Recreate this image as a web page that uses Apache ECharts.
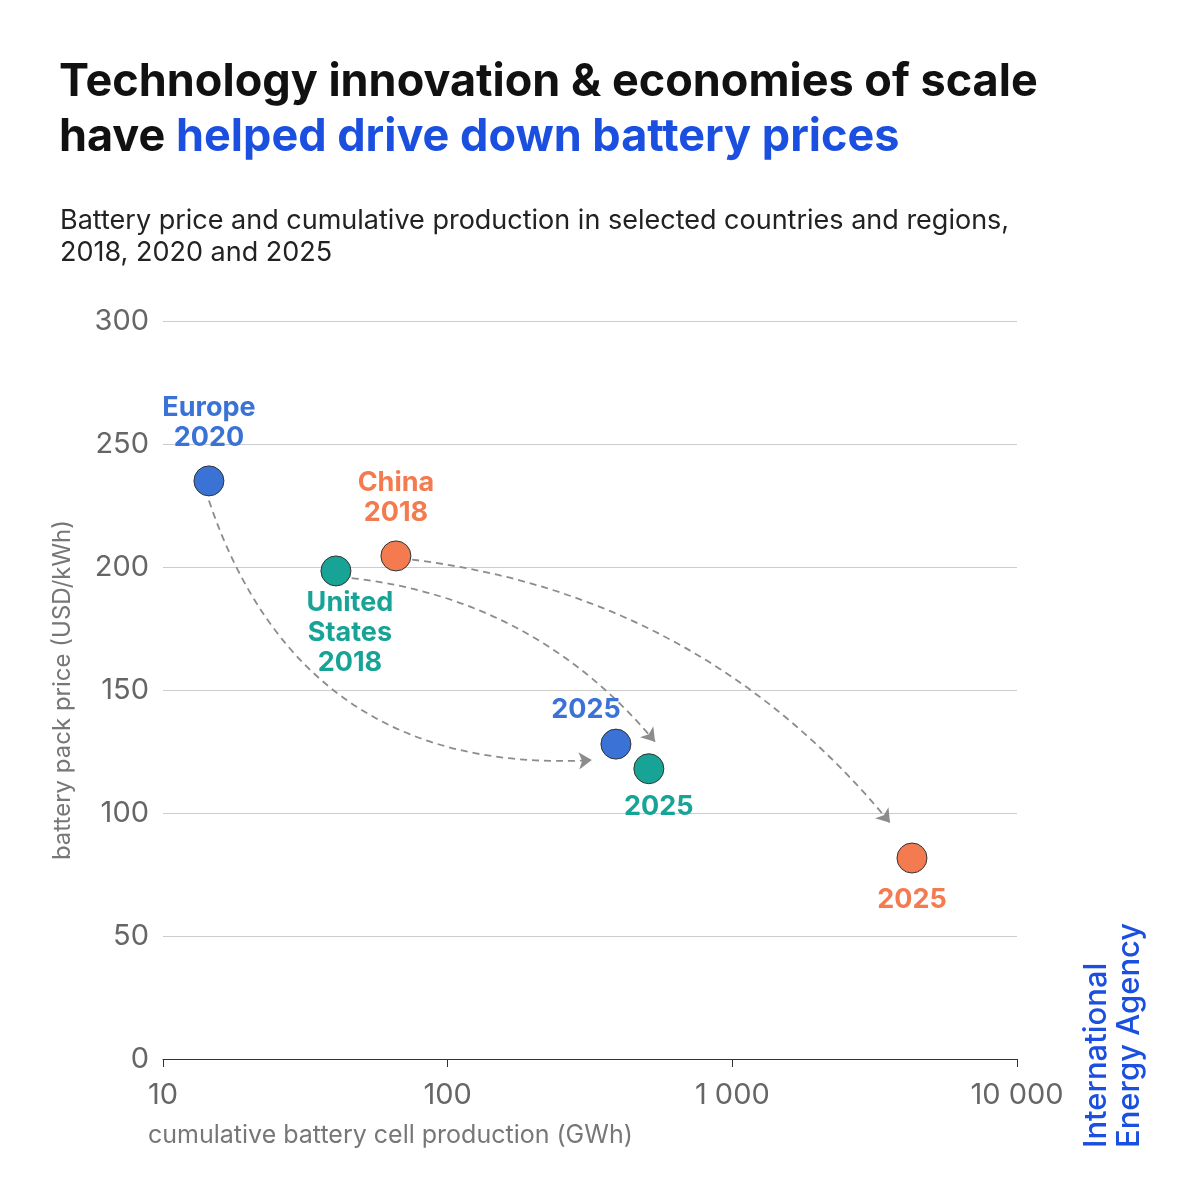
<!DOCTYPE html><html><head><meta charset="utf-8"><script src="https://cdn.jsdelivr.net/npm/echarts@6/dist/echarts.min.js"></script>
<style>body{margin:0}#c{width:1200px;height:1200px}</style></head><body><div id="c"></div><script>
const names=['Europe','China','United States'];
const colors=['#3b72d6','#f47a4f','#17a497'];
const start=[[14.5,235],[65.8,204.5],[40.5,198.4]];
const endMap=[[390,128],[4276,81.7],[509,118]];
const startLabels=['Europe\n2020','China\n2018','United\nStates\n2018'];
const arrows=[[[14.5,227],[321,121.5]],[[75,203],[3580,96]],[[46,195.5],[535,129]]];
const fmt=v=>v>=1000?String(v).replace(/\B(?=(\d{3})+(?!\d))/g,' '):String(v);
const startPos=[[0,-58],[0,-58],[14,62]];
const endPos=[[-30,-34],[0,42],[10,38]];
const series=[];
for(let i=0;i<3;i++){
 series.push({type:'lines',coordinateSystem:'cartesian2d',polyline:false,symbol:['none','arrow'],symbolSize:13,
  lineStyle:{color:'#8c8c8c',type:[7,5],width:1.8,opacity:1,curveness:i==0?-0.38:0.2},z:1,
  data:[{coords:arrows[i]}]});
 series.push({type:'scatter',symbolSize:30,z:3,itemStyle:{color:colors[i],opacity:1,borderColor:'#333',borderWidth:1},
  label:{show:true,position:'inside',offset:startPos[i],formatter:startLabels[i],color:colors[i],fontSize:27,fontWeight:'bold',fontFamily:'Inter',lineHeight:30},
  data:[start[i]]});
 series.push({type:'scatter',symbolSize:30,z:3,itemStyle:{color:colors[i],opacity:1,borderColor:'#333',borderWidth:1},
  label:{show:true,position:'inside',offset:endPos[i],formatter:'2025',color:colors[i],fontSize:27,fontWeight:'bold',fontFamily:'Inter'},
  data:[endMap[i]]});
}
const ch=echarts.init(document.getElementById('c'));
ch.setOption({backgroundColor:'#fff',
 title:[{text:'Technology innovation & economies of scale\nhave {b|helped drive down battery prices}',left:54,top:50,
   textStyle:{fontSize:45,fontWeight:'bold',fontFamily:'Inter',color:'#111',lineHeight:55,rich:{b:{fontSize:45,fontWeight:'bold',fontFamily:'Inter',color:'#1a4fe0'}}}},
  {text:'Battery price and cumulative production in selected countries and regions,\n2018, 2020 and 2025',left:55,top:200,textStyle:{fontSize:27,fontWeight:'normal',fontFamily:'Inter',color:'#222',lineHeight:32}}],
 graphic:[{type:'text',rotation:Math.PI/2,style:{text:'International\nEnergy Agency',font:'500 31px Inter',fill:'#1a4fe0',lineHeight:33},
  x:1080,y:1148}],
 grid:{left:163,right:183,top:321,bottom:141},
 xAxis:{type:'log',min:10,max:10000,logBase:10,name:'cumulative battery cell production (GWh)',nameLocation:'start',nameGap:0,
  nameTextStyle:{fontSize:25,color:'#777',fontFamily:'Inter',align:'left',verticalAlign:'top',padding:[64,0,0,-15]},
  axisLine:{lineStyle:{color:'#333'}},axisTick:{show:true,length:8,lineStyle:{color:'#333'}},splitLine:{show:false},
  axisLabel:{formatter:fmt,fontSize:29,color:'#666',fontFamily:'Inter',margin:22}},
 yAxis:{type:'value',min:0,max:300,interval:50,name:'battery pack price (USD/kWh)',nameLocation:'middle',nameGap:88,
  nameTextStyle:{fontSize:24,color:'#777',fontFamily:'Inter'},axisLine:{show:false},axisTick:{show:false},
  splitLine:{lineStyle:{color:'#ccc'}},axisLabel:{fontSize:29,color:'#666',fontFamily:'Inter',margin:14}},
 series});
</script></body></html>
